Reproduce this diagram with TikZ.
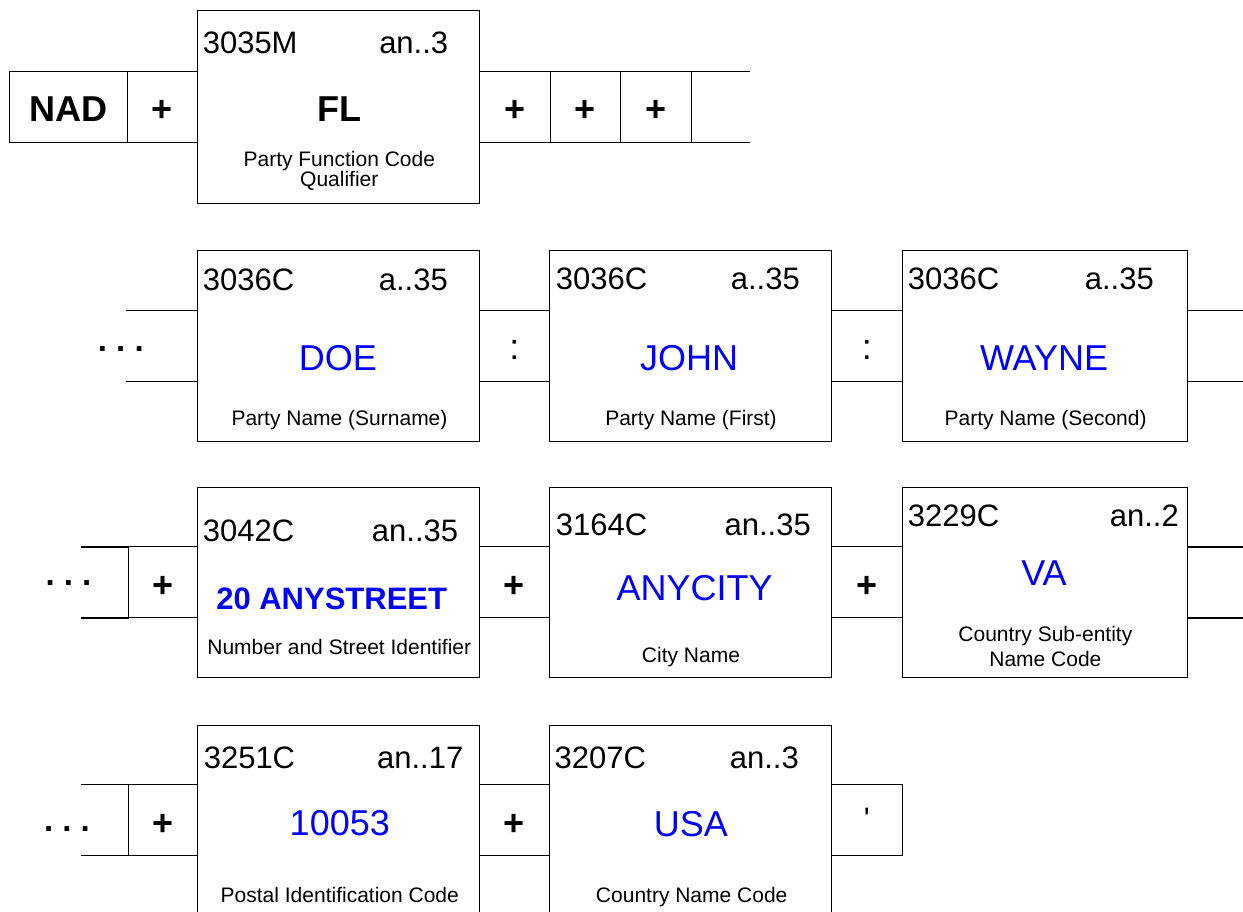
\documentclass[tikz,border=0pt]{standalone}
\usepackage{fontspec}
\setmainfont{Liberation Sans}
\usepackage{tikz}
\usetikzlibrary{positioning}

\newcommand{\codefont}{\fontsize{31}{31}\selectfont}
\newcommand{\valfont}{\fontsize{36}{36}\selectfont}
\newcommand{\descfont}{\fontsize{21}{25}\selectfont}
\newcommand{\plusfont}{\bfseries\fontsize{36}{36}\selectfont}

\tikzset{
  elembox/.style = {draw, line width=1pt, outer sep=0pt, inner sep=0pt,
                    minimum width=282pt, minimum height=190pt},
  sepbox/.style  = {draw, line width=1pt, outer sep=0pt, inner sep=0pt,
                    minimum width=70.5pt, minimum height=71pt,
                    font=\plusfont, text height=30pt, text depth=0pt},
  elemid/.style  = {font=\codefont, inner sep=0pt, anchor=base west},
  elemfmt/.style = {font=\codefont, inner sep=0pt, anchor=base east},
  elemval/.style = {font=\valfont, text=blue, inner sep=0pt, anchor=base},
  elemdesc/.style= {font=\descfont, inner sep=0pt, align=center, anchor=base},
  more/.style    = {font=\frenchspacing\bfseries\fontsize{33}{33}\selectfont, inner sep=0pt, anchor=base},
  stub/.style    = {line width=1.6pt}
}

\begin{document}
\begin{tikzpicture}[x=1pt, y=-1pt]
\useasboundingbox (0,0) rectangle (1243,912);

% row 1: segment tag and qualifier
\node[sepbox, minimum width=117.5pt] (nad) at (68.5,107) {NAD};
\node[sepbox] (p1a) [right=0pt of nad] {+};
\node[elembox, minimum height=193pt] (fl) [right=0pt of p1a] {};
\node[sepbox] (p1b) [right=0pt of fl] {+};
\node[sepbox] (p1c) [right=0pt of p1b] {+};
\node[sepbox] (p1d) [right=0pt of p1c] {+};
\coordinate (r1a) at ([xshift=59pt]p1d.north east);
\coordinate (r1b) at ([xshift=59pt]p1d.south east);
\draw[stub] (p1d.north east) -- (r1a);
\draw[stub] (p1d.south east) -- (r1b);

\node[elemid] at (202.6,54) {3035M};
\node[elemfmt] at (448.4,54) {an..3};
\node[font=\bfseries\valfont, inner sep=0pt, anchor=base] at (339,121.7) {FL};
\node[elemdesc, font=\fontsize{21}{19}\selectfont] at (339.3,187) {Party Function Code\\Qualifier};

% row 2: party name
\node[elembox] (doe) at (338,346) {};
\node[sepbox, font=\valfont, text height=26pt] (c2a) [right=0pt of doe] {:};
\node[elembox] (john) [right=0pt of c2a] {};
\node[sepbox, font=\valfont, text height=26pt] (c2b) [right=0pt of john] {:};
\node[elembox, minimum width=285pt] (wayne) [right=0pt of c2b] {};
\coordinate (l2a) at ([shift={(-71.3,-35.5)}]doe.west);
\coordinate (l2b) at ([shift={(-71.3,35.5)}]doe.west);
\coordinate (r2a) at ([shift={(60,-35.5)}]wayne.east);
\coordinate (r2b) at ([shift={(60,35.5)}]wayne.east);
\draw[stub] (l2a) -- (l2a -| doe.west);
\draw[stub] (l2b) -- (l2b -| doe.west);
\draw[stub] (r2a -| wayne.east) -- (r2a);
\draw[stub] (r2b -| wayne.east) -- (r2b);
\node[more] at (120.8,351.5) {. . .};

\node[elemid] at (202.7,290.7) {3036C};
\node[elemfmt] at (448,290.7) {a..35};
\node[elemval] at (338,370) {DOE};
\node[elemdesc] at (339.5,425) {Party Name (Surname)};

\node[elemid] at (555.7,290) {3036C};
\node[elemfmt] at (800,290) {a..35};
\node[elemval] at (689,370) {JOHN};
\node[elemdesc] at (691,425) {Party Name (First)};

\node[elemid] at (907.7,290) {3036C};
\node[elemfmt] at (1154,290) {a..35};
\node[elemval] at (1044,370) {WAYNE};
\node[elemdesc] at (1045.6,425) {Party Name (Second)};

% row 3: street, city, sub-entity
\node[elembox] (street) at (338,582.3) {};
\node[sepbox, minimum width=68.5pt] (p3a) [left=0pt of street] {+};
\node[sepbox] (p3b) [right=0pt of street] {+};
\node[elembox] (city) [right=0pt of p3b] {};
\node[sepbox] (p3c) [right=0pt of city] {+};
\node[elembox, minimum width=285pt] (va) [right=0pt of p3c] {};
\coordinate (l3a) at ([xshift=-47.5pt]p3a.north west);
\coordinate (l3b) at ([xshift=-47.5pt]p3a.south west);
\coordinate (r3a) at ([shift={(60,-35.5)}]va.east);
\coordinate (r3b) at ([shift={(60,35.5)}]va.east);
\draw[stub] (l3a) -- (p3a.north west);
\draw[stub] (l3b) -- (p3a.south west);
\draw[stub] (r3a -| va.east) -- (r3a);
\draw[stub] (r3b -| va.east) -- (r3b);
\node[more] at (68.5,585) {. . .};

\node[elemid] at (202.7,541) {3042C};
\node[elemfmt] at (458.3,541) {an..35};
\node[elemval, font=\bfseries\codefont] at (331.7,609.3) {20 ANYSTREET};
\node[elemdesc] at (339.3,654) {Number and Street Identifier};

\node[elemid] at (555.7,535) {3164C};
\node[elemfmt] at (811,535) {an..35};
\node[elemval] at (694.7,600) {ANYCITY};
\node[elemdesc] at (691,662.7) {City Name};

\node[elemid] at (907.7,526) {3229C};
\node[elemfmt] at (1179,526) {an..2};
\node[elemval] at (1044,585) {VA};
\node[elemdesc] at (1045.4,666.7) {Country Sub-entity\\Name Code};

% row 4: postcode and country
\node[elembox] (postal) at (338,820) {};
\node[sepbox, minimum width=68.5pt] (p4a) [left=0pt of postal] {+};
\node[sepbox] (p4b) [right=0pt of postal] {+};
\node[elembox] (usa) [right=0pt of p4b] {};
\node[sepbox, font=\codefont, text height=18pt] (term) [right=0pt of usa] {\textquotesingle};
\coordinate (l4a) at ([xshift=-47.5pt]p4a.north west);
\coordinate (l4b) at ([xshift=-47.5pt]p4a.south west);
\draw[stub] (l4a) -- (p4a.north west);
\draw[stub] (l4b) -- (p4a.south west);
\node[more] at (67,831) {. . .};

\node[elemid] at (203.6,768.3) {3251C};
\node[elemfmt] at (463.5,768.3) {an..17};
\node[elemval] at (339.8,835) {10053};
\node[elemdesc] at (339.8,902.7) {Postal Identification Code};

\node[elemid] at (554.5,768.3) {3207C};
\node[elemfmt] at (799,768.3) {an..3};
\node[elemval] at (691,836) {USA};
\node[elemdesc] at (691.7,902.7) {Country Name Code};
\end{tikzpicture}
\end{document}
